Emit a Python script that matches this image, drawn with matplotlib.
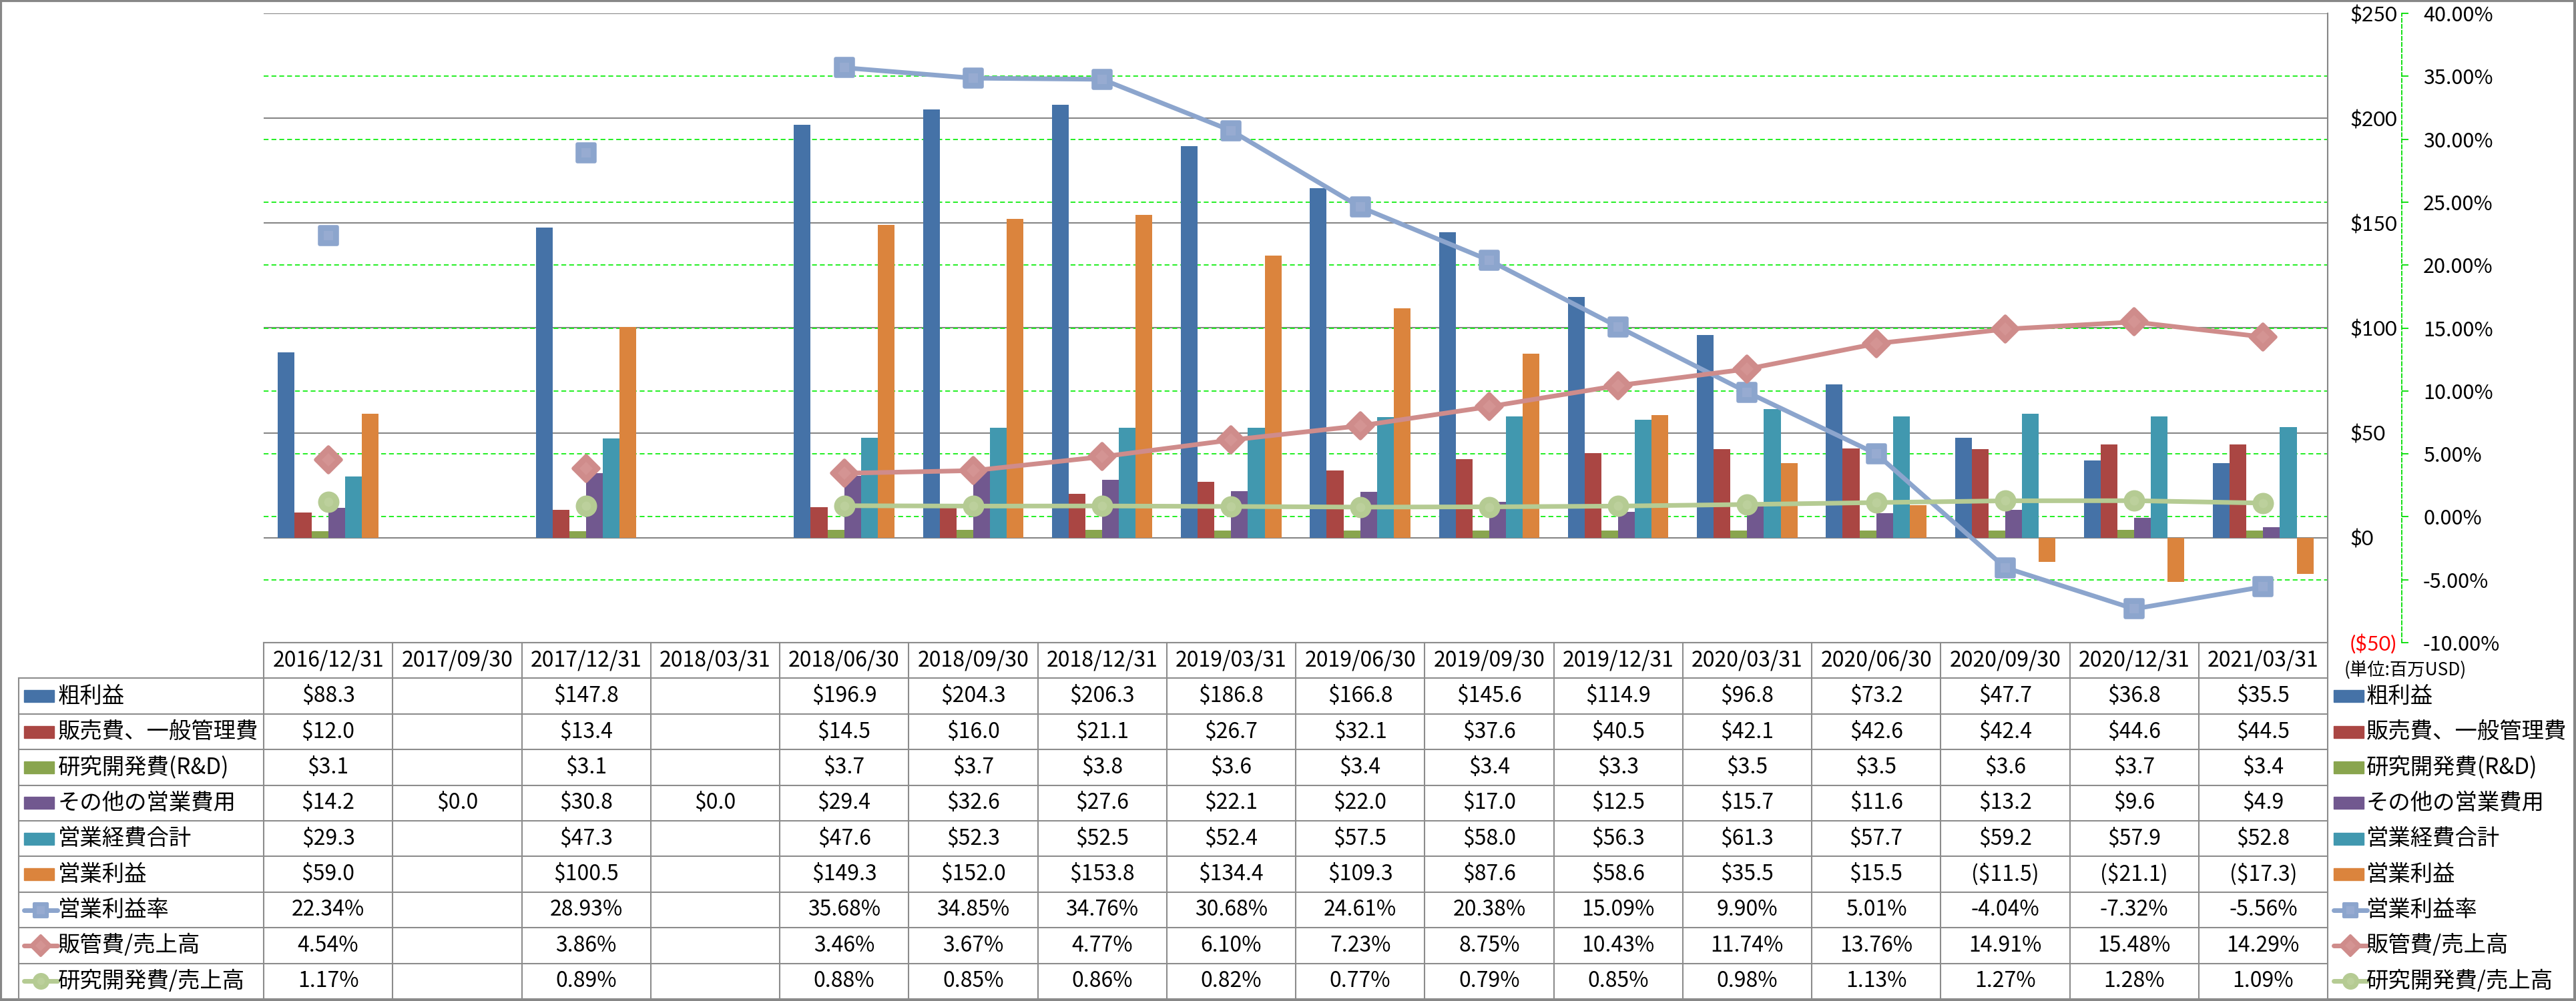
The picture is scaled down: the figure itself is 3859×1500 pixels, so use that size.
import numpy as np
import matplotlib
matplotlib.use('Agg')
import matplotlib.pyplot as plt
from matplotlib.transforms import blended_transform_factory
from matplotlib.patches import Rectangle
from matplotlib.markers import MarkerStyle

plt.rcParams['font.family'] = ['Noto Sans CJK JP', 'DejaVu Sans']

dates = ['2016/12/31', '2017/09/30', '2017/12/31', '2018/03/31', '2018/06/30', '2018/09/30',
         '2018/12/31', '2019/03/31', '2019/06/30', '2019/09/30', '2019/12/31', '2020/03/31',
         '2020/06/30', '2020/09/30', '2020/12/31', '2021/03/31']

gross_profit = [88.3, None, 147.8, None, 196.9, 204.3, 206.3, 186.8, 166.8, 145.6, 114.9, 96.8, 73.2, 47.7, 36.8, 35.5]
sga = [12.0, None, 13.4, None, 14.5, 16.0, 21.1, 26.7, 32.1, 37.6, 40.5, 42.1, 42.6, 42.4, 44.6, 44.5]
rnd = [3.1, None, 3.1, None, 3.7, 3.7, 3.8, 3.6, 3.4, 3.4, 3.3, 3.5, 3.5, 3.6, 3.7, 3.4]
other_opex = [14.2, 0.0, 30.8, 0.0, 29.4, 32.6, 27.6, 22.1, 22.0, 17.0, 12.5, 15.7, 11.6, 13.2, 9.6, 4.9]
total_opex = [29.3, None, 47.3, None, 47.6, 52.3, 52.5, 52.4, 57.5, 58.0, 56.3, 61.3, 57.7, 59.2, 57.9, 52.8]
op_income = [59.0, None, 100.5, None, 149.3, 152.0, 153.8, 134.4, 109.3, 87.6, 58.6, 35.5, 15.5, -11.5, -21.1, -17.3]

op_margin = [22.34, None, 28.93, None, 35.68, 34.85, 34.76, 30.68, 24.61, 20.38, 15.09, 9.90, 5.01, -4.04, -7.32, -5.56]
sga_ratio = [4.54, None, 3.86, None, 3.46, 3.67, 4.77, 6.10, 7.23, 8.75, 10.43, 11.74, 13.76, 14.91, 15.48, 14.29]
rnd_ratio = [1.17, None, 0.89, None, 0.88, 0.85, 0.86, 0.82, 0.77, 0.79, 0.85, 0.98, 1.13, 1.27, 1.28, 1.09]

usd_ticks = [-50, 0, 50, 100, 150, 200, 250]
pct_ticks = [-10, -5, 0, 5, 10, 15, 20, 25, 30, 35, 40]

bar_series = [
    ('粗利益', gross_profit, '#4572A7'),
    ('販売費、一般管理費', sga, '#AA4643'),
    ('研究開発費(R&D)', rnd, '#89A54E'),
    ('その他の営業費用', other_opex, '#71588F'),
    ('営業経費合計', total_opex, '#4198AF'),
    ('営業利益', op_income, '#DB843D'),
]
# name, values, line colour, marker, inner highlight colour
line_series = [
    ('営業利益率', op_margin, '#8CA5CD', 's', '#97ABD1'),
    ('販管費/売上高', sga_ratio, '#CF8C8B', 'D', '#D49493'),
    ('研究開発費/売上高', rnd_ratio, '#B5CB93', 'o', '#BCD09C'),
]


def arr(vals):
    return np.array([np.nan if v is None else v for v in vals], dtype=float)


def fmt_usd(v):
    if v is None:
        return ''
    if v < 0:
        return '($%.1f)' % (-v)
    return '$%.1f' % v


def fmt_pct(v):
    if v is None:
        return ''
    return '%.2f%%' % v


W, H = 3859, 1500
fig = plt.figure(figsize=(W / 100, H / 100), dpi=100)

# plot area in pixels
PL, PR, PT, PB = 395, 3487, 20, 963
ax = fig.add_axes([PL / W, 1 - PB / H, (PR - PL) / W, (PB - PT) / H])
ax2 = ax.twinx()

x = np.arange(len(dates))
w = 0.13
for k, (name, vals, col) in enumerate(bar_series):
    v = arr(vals)
    m = ~np.isnan(v)
    ax.bar(x[m] + (k - 2.5) * w, v[m], width=w, color=col, zorder=2)

ax.set_xticks([])
ax.set_yticks(usd_ticks)
ax.set_yticklabels(['($%d)' % -t if t < 0 else '$%d' % t for t in usd_ticks])
ax.yaxis.tick_right()
ax.tick_params(axis='y', length=0, pad=24, labelsize=22)
for lab, t in zip(ax.get_yticklabels(), usd_ticks):
    lab.set_fontfamily(['Lato', 'DejaVu Sans'])
    lab.set_color('red' if t < 0 else 'black')
ax.grid(axis='y', color='#868686', lw=1.5)
ax.set_axisbelow(True)
for s in ['left', 'top', 'bottom']:
    ax.spines[s].set_visible(False)
ax.spines['right'].set_color('#868686')
ax.spines['right'].set_linewidth(1.5)

# secondary axis (percent)
ax2.set_ylim(-10, 40)
ax2.set_yticks(pct_ticks)
ax2.set_yticklabels(['%.2f%%' % t for t in pct_ticks])
ax2.tick_params(axis='y', direction='out', length=7, width=1.3, color='#00DD00', pad=16, labelsize=22)
for lab, t in zip(ax2.get_yticklabels(), pct_ticks):
    lab.set_fontfamily(['Lato', 'DejaVu Sans'])
    lab.set_color('red' if t < 0 else 'black')
for s in ['left', 'top', 'bottom']:
    ax2.spines[s].set_visible(False)
ax2.spines['right'].set_position(('outward', 80))
ax2.spines['right'].set_color('#00DD00')
ax2.spines['right'].set_linewidth(1.3)
ax2.spines['right'].set_linestyle((0, (3, 2)))

# green dashed percent gridlines, behind the bars
gtrans = blended_transform_factory(ax.transAxes, ax2.transData)
for t in pct_ticks[1:-1]:
    ax.plot([0, 1], [t, t], transform=gtrans, color='#11EE11', lw=1.3, ls=(0, (4, 2.5)), zorder=1)
ax.set_xlim(-0.5, len(dates) - 0.5)
ax.set_ylim(-50, 250)

for name, vals, col, mk, hi in line_series:
    ax2.plot(x, arr(vals), color=col, lw=5, zorder=3, solid_joinstyle='round')
    ax2.plot(x, arr(vals), ls='none', marker=MarkerStyle(mk, joinstyle='round'), ms=19, mew=4,
             mfc=col, mec=col, zorder=4)
    ax2.plot(x, arr(vals), ls='none', marker=mk, ms=10, mew=0, mfc=hi, zorder=5)

# data table
tax = fig.add_axes([0, 0, 1, 1])
tax.set_xlim(0, W)
tax.set_ylim(H, 0)
tax.axis('off')
ctrans = blended_transform_factory(ax.transData, tax.transData)

TB = 1497
rh = (TB - PB) / 10
LC = 28
gcol = '#8C8C8C'

# header row
tax.plot([-0.5, len(dates) - 0.5], [PB, PB], transform=ctrans, color=gcol, lw=1.5)
for i, d in enumerate(dates):
    tax.text(i, PB + rh / 2, d, transform=ctrans, ha='center', va='center', fontsize=23)
for j in range(1, 11):
    yy = PB + j * rh
    tax.plot([LC, PL], [yy, yy], color=gcol, lw=1.5)
    tax.plot([-0.5, len(dates) - 0.5], [yy, yy], transform=ctrans, color=gcol, lw=1.5)
tax.plot([LC, LC], [PB + rh, TB], color=gcol, lw=1.5)
for i in range(len(dates) + 1):
    tax.plot([i - 0.5, i - 0.5], [PB, TB], transform=ctrans, color=gcol, lw=1.5)

rows = [(n, v, c, None, None, fmt_usd) for n, v, c in bar_series] + \
       [(n, v, c, m, h, fmt_pct) for n, v, c, m, h in line_series]


def draw_key(x0, yc, col, mk, hi):
    if mk is None:
        tax.add_patch(Rectangle((x0, yc - 9), 45, 18, color=col))
    else:
        tax.plot([x0, x0 + 50], [yc, yc], color=col, lw=5, solid_capstyle='round')
        tax.plot([x0 + 25], [yc], marker=MarkerStyle(mk, joinstyle='round'), ms=15, mew=3,
                 mfc=col, mec=col)
        tax.plot([x0 + 25], [yc], marker=mk, ms=8, mew=0, mfc=hi)


for r, (name, vals, col, mk, hi, fmt) in enumerate(rows):
    yc = PB + (r + 1.5) * rh
    draw_key(36, yc, col, mk, hi)
    tax.text(87, yc, name, ha='left', va='center', fontsize=24)
    for i, v in enumerate(vals):
        tax.text(i, yc, fmt(v), transform=ctrans, ha='center', va='center', fontsize=23)
    # legend to the right of the table
    draw_key(3496, yc, col, mk, hi)
    tax.text(3545, yc, name, ha='left', va='center', fontsize=24)

tax.text(3512, 1004, '(単位:百万USD)', ha='left', va='center', fontsize=19)

# outer frame
tax.add_patch(Rectangle((1, 1), W - 3, H - 3, fill=False, edgecolor='#878787', lw=3))

fig.savefig('out.png', dpi=100)
